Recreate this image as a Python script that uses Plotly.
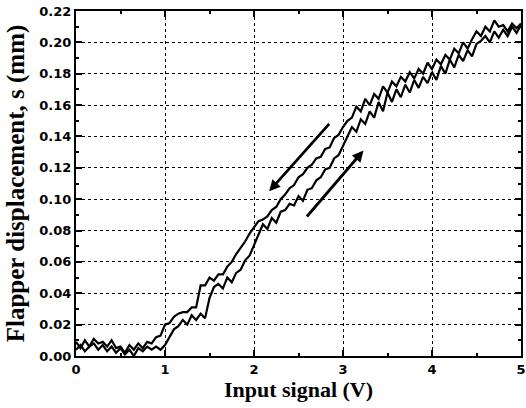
import plotly.graph_objects as go

# Increasing-input branch (lower / right curve)
x_up = [0.00, 0.05, 0.10, 0.15, 0.20, 0.25, 0.30, 0.35, 0.40, 0.45,
        0.50, 0.55, 0.60, 0.65, 0.70, 0.75, 0.80, 0.85, 0.90, 0.95,
        1.00, 1.05, 1.10, 1.15, 1.20, 1.25, 1.30, 1.35, 1.40, 1.45,
        1.50, 1.55, 1.60, 1.65, 1.70, 1.75, 1.80, 1.85, 1.90, 1.95,
        2.00, 2.05, 2.10, 2.15, 2.20, 2.25, 2.30, 2.35, 2.40, 2.45,
        2.50, 2.55, 2.60, 2.65, 2.70, 2.75, 2.80, 2.85, 2.90, 2.95,
        3.00, 3.05, 3.10, 3.15, 3.20, 3.25, 3.30, 3.35, 3.40, 3.45,
        3.50, 3.55, 3.60, 3.65, 3.70, 3.75, 3.80, 3.85, 3.90, 3.95,
        4.00, 4.05, 4.10, 4.15, 4.20, 4.25, 4.30, 4.35, 4.40, 4.45,
        4.50, 4.55, 4.60, 4.65, 4.70, 4.75, 4.80, 4.85, 4.90, 4.95, 5.00]
y_up = [0.004, 0.007, 0.003, 0.006, 0.008, 0.004, 0.007, 0.003, 0.006, 0.002,
        0.005, 0.001, 0.004, 0.000, 0.005, 0.003, 0.006, 0.004, 0.006, 0.004,
        0.007, 0.012, 0.017, 0.019, 0.023, 0.020, 0.026, 0.023, 0.027, 0.024,
        0.037, 0.044, 0.046, 0.043, 0.050, 0.047, 0.053, 0.055, 0.061, 0.064,
        0.071, 0.077, 0.084, 0.081, 0.088, 0.085, 0.092, 0.093, 0.097, 0.096,
        0.102, 0.099, 0.106, 0.107, 0.112, 0.114, 0.119, 0.120, 0.126, 0.128,
        0.134, 0.141, 0.146, 0.143, 0.151, 0.148, 0.156, 0.152, 0.162, 0.156,
        0.168, 0.162, 0.170, 0.165, 0.173, 0.168, 0.176, 0.171, 0.178, 0.174,
        0.181, 0.176, 0.185, 0.180, 0.189, 0.184, 0.192, 0.188, 0.195, 0.191,
        0.199, 0.201, 0.204, 0.200, 0.207, 0.203, 0.208, 0.204, 0.210, 0.206, 0.211]

# Decreasing-input branch (upper / left curve)
x_down = [5.00, 4.95, 4.90, 4.85, 4.80, 4.75, 4.70, 4.65, 4.60, 4.55,
          4.50, 4.45, 4.40, 4.35, 4.30, 4.25, 4.20, 4.15, 4.10, 4.05,
          4.00, 3.95, 3.90, 3.85, 3.80, 3.75, 3.70, 3.65, 3.60, 3.55,
          3.50, 3.45, 3.40, 3.35, 3.30, 3.25, 3.20, 3.15, 3.10, 3.05,
          3.00, 2.95, 2.90, 2.85, 2.80, 2.75, 2.70, 2.65, 2.60, 2.55,
          2.50, 2.45, 2.40, 2.35, 2.30, 2.25, 2.20, 2.15, 2.10, 2.05,
          2.00, 1.95, 1.90, 1.85, 1.80, 1.75, 1.70, 1.65, 1.60, 1.55,
          1.50, 1.45, 1.40, 1.35, 1.30, 1.25, 1.20, 1.15, 1.10, 1.05,
          1.00, 0.95, 0.90, 0.85, 0.80, 0.75, 0.70, 0.65, 0.60, 0.55,
          0.50, 0.45, 0.40, 0.35, 0.30, 0.25, 0.20, 0.15, 0.10, 0.05, 0.00]
y_down = [0.212, 0.209, 0.212, 0.207, 0.211, 0.210, 0.214, 0.207, 0.210, 0.204,
          0.207, 0.202, 0.196, 0.200, 0.193, 0.196, 0.189, 0.192, 0.186, 0.189,
          0.183, 0.187, 0.180, 0.183, 0.177, 0.181, 0.175, 0.178, 0.172, 0.175,
          0.168, 0.172, 0.164, 0.167, 0.160, 0.164, 0.156, 0.159, 0.152, 0.150,
          0.146, 0.141, 0.139, 0.133, 0.132, 0.127, 0.126, 0.122, 0.120, 0.116,
          0.114, 0.109, 0.107, 0.103, 0.100, 0.095, 0.093, 0.089, 0.087, 0.086,
          0.082, 0.078, 0.073, 0.069, 0.065, 0.060, 0.057, 0.052, 0.052, 0.048,
          0.050, 0.045, 0.045, 0.031, 0.031, 0.028, 0.028, 0.027, 0.025, 0.021,
          0.020, 0.013, 0.012, 0.008, 0.009, 0.005, 0.008, 0.004, 0.007, 0.002,
          0.006, 0.005, 0.010, 0.006, 0.009, 0.008, 0.011, 0.006, 0.010, 0.005, 0.009]

# Direction arrows: (tail x, tail y, head x, head y)
arrow_down = [2.86, 0.149, 2.17, 0.105]
arrow_up = [2.58, 0.088, 3.23, 0.131]

x_ticks = [0, 1, 2, 3, 4, 5]
y_ticks = [0.00, 0.02, 0.04, 0.06, 0.08, 0.10, 0.12, 0.14, 0.16, 0.18, 0.20, 0.22]

fig = go.Figure()
fig.add_trace(go.Scatter(x=x_up, y=y_up, mode="lines",
                         line=dict(color="black", width=2.2), showlegend=False))
fig.add_trace(go.Scatter(x=x_down, y=y_down, mode="lines",
                         line=dict(color="black", width=2.2), showlegend=False))

for a in (arrow_down, arrow_up):
    fig.add_annotation(x=a[2], y=a[3], ax=a[0], ay=a[1],
                       xref="x", yref="y", axref="x", ayref="y",
                       text="", showarrow=True, arrowhead=2, arrowsize=0.8,
                       arrowwidth=2.8, arrowcolor="black")

tick_font = dict(family="DejaVu Sans", size=13, color="black", weight="bold")

axis_common = dict(
    showline=True, linecolor="black", linewidth=2, mirror="allticks",
    ticks="inside", ticklen=6, tickwidth=2, tickcolor="black",
    showgrid=True, gridcolor="black", gridwidth=1.2, griddash="dot",
    zeroline=False, tickfont=tick_font, automargin=False,
)

fig.update_xaxes(range=[0, 5], tickvals=x_ticks, ticktext=[str(v) for v in x_ticks],
                 minor=dict(ticks="inside", ticklen=3, tickwidth=1.5, tickcolor="black",
                            dtick=0.5, showgrid=False),
                 title=dict(text="Input signal (V)",
                            font=dict(family="Liberation Serif", size=22, color="black", weight="bold"),
                            standoff=0),
                 **axis_common)
fig.update_yaxes(range=[0, 0.22], tickvals=y_ticks, ticktext=[f"{v:.2f}" for v in y_ticks],
                 minor=dict(ticks="inside", ticklen=3, tickwidth=1.5, tickcolor="black",
                            dtick=0.01, showgrid=False),
                 title=dict(text="Flapper displacement, s (mm)",
                            font=dict(family="Liberation Serif", size=25, color="black", weight="bold"),
                            standoff=8),
                 **axis_common)

fig.update_layout(width=526, height=408,
                  margin=dict(l=76, r=5, t=11, b=52),
                  paper_bgcolor="white", plot_bgcolor="white")

fig.write_html("out.html", config={"displayModeBar": False},
               post_script="document.body.style.margin='0';document.body.style.padding='0';")
